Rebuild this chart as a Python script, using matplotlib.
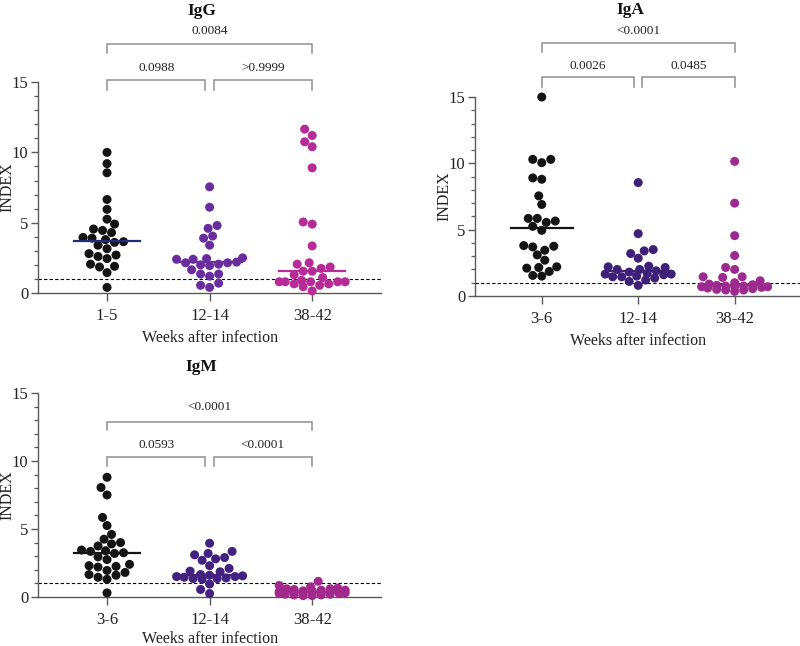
import numpy as np
import matplotlib
matplotlib.use("Agg")
import matplotlib.pyplot as plt
from matplotlib.ticker import MultipleLocator

plt.rcParams['font.family'] = ['Liberation Serif', 'DejaVu Serif']

# --- data ------------------------------------------------------------------
igg_groups = ["1-5", "12-14", "38-42"]
iga_groups = ["3-6", "12-14", "38-42"]
igm_groups = ["3-6", "12-14", "38-42"]

igg_1 = [10.0, 9.2, 8.55, 6.65, 5.95, 5.25, 4.9, 4.55, 4.3, 4.45, 3.95, 3.9, 3.8,
         3.6, 3.65, 3.4, 3.15, 2.7, 2.8, 2.6, 2.45, 2.05, 1.9, 1.85, 1.45, 0.4]
igg_2 = [7.55, 6.1, 4.8, 4.6, 4.05, 3.9, 3.4, 2.4, 2.4, 2.5, 2.45, 2.15, 2.2, 2.15,
         2.0, 1.95, 2.05, 1.65, 1.2, 1.35, 1.35, 0.4, 0.55, 0.7]
igg_3 = [11.65, 11.2, 10.75, 10.4, 8.9, 5.05, 4.9, 3.35, 2.05, 2.15, 1.75, 1.85,
         1.55, 1.55, 1.3, 1.1, 0.8, 0.55, 0.65, 0.8, 0.45, 0.65, 0.8, 0.8, 0.9,
         0.15, 0.8]

iga_1 = [15.0, 10.05, 10.3, 10.3, 8.8, 8.9, 7.55, 6.9, 5.85, 5.55, 5.65, 5.85,
         5.25, 4.95, 3.7, 3.75, 3.8, 3.1, 3.45, 2.7, 2.15, 1.85, 2.1, 2.2, 1.55, 1.5]
iga_2 = [8.55, 4.7, 3.5, 3.4, 3.2, 2.85, 2.25, 2.15, 2.2, 2.0, 2.0, 1.9, 1.8, 1.7,
         1.65, 1.65, 1.6, 1.5, 1.45, 1.45, 1.35, 1.2, 1.1, 0.8]
iga_3 = [10.15, 7.0, 4.55, 3.05, 2.0, 2.15, 1.45, 1.45, 1.4, 1.15, 1.0, 0.9, 0.85,
         0.8, 0.75, 0.7, 0.7, 0.7, 0.6, 0.55, 0.5, 0.45, 0.45, 0.35, 0.65, 0.75]

igm_1 = [8.8, 8.05, 7.5, 5.85, 5.25, 4.6, 4.25, 4.0, 3.9, 3.75, 3.35, 3.25, 3.4,
         3.45, 3.2, 2.95, 2.75, 2.25, 2.4, 2.3, 2.2, 1.95, 1.8, 1.65, 1.6, 1.45,
         1.3, 0.3]
igm_2 = [3.95, 3.35, 3.2, 3.1, 2.9, 2.8, 2.7, 2.3, 2.1, 1.9, 1.85, 1.65, 1.6, 1.55,
         1.5, 1.5, 1.45, 1.4, 1.35, 1.3, 1.35, 0.95, 0.55, 0.25]
igm_3 = [1.15, 0.85, 0.75, 0.65, 0.6, 0.6, 0.55, 0.5, 0.5, 0.45, 0.45, 0.4, 0.4,
         0.4, 0.35, 0.35, 0.35, 0.3, 0.3, 0.3, 0.25, 0.25, 0.2, 0.2, 0.15, 0.15,
         0.1, 0.1]

igg_p = ["0.0988", ">0.9999", "0.0084"]
iga_p = ["0.0026", "0.0485", "<0.0001"]
igm_p = ["0.0593", "<0.0001", "<0.0001"]

GRAY = "#5a5a5a"
BRACKET = "#8f8f8f"


def swarm_x(ax, x0, values, d=8.8, cap=33):
    """beeswarm offsets computed in pixel space, returned in data units"""
    vals = np.asarray(values, float)
    pix = ax.transData.transform(np.column_stack([np.full(len(vals), x0), vals]))
    ys = pix[:, 1]
    xscale = ax.transData.transform([[x0 + 1, 0]])[0, 0] - pix[0, 0]
    cands = sorted(np.arange(-cap, cap + 0.1, 1.5), key=lambda c: (abs(c), c))
    placed = []
    offs = np.zeros(len(vals))
    for i in np.argsort(ys):
        best, best_pen = 0.0, None
        for c in cands:
            pen = 0.0
            for px, py in placed:
                dist = np.hypot(c - px, ys[i] - py)
                if dist < d:
                    pen += d - dist
            if best_pen is None or pen < best_pen - 1e-9:
                best, best_pen = c, pen
                if pen == 0:
                    break
        placed.append((best, ys[i]))
        offs[i] = best
    return x0 + offs / xscale


def bracket(ax, x1, x2, ytop, ydrop, text, ty):
    ax.plot([x1, x1, x2, x2], [ydrop, ytop, ytop, ydrop], color=BRACKET, lw=1.1,
            clip_on=False, solid_joinstyle="miter")
    ax.text((x1 + x2) / 2, ty, text, ha="center", va="center", fontsize=9.5,
            color="#222222")


def panel(ax, title, groups, data, colors, medcolors, pvals, br, title_y, xlim,
          ylab_x, xpad):
    ax.set_xlim(*xlim)
    ax.set_ylim(0, 15)
    for i, (vals, c, mc) in enumerate(zip(data, colors, medcolors)):
        xs = swarm_x(ax, i, vals)
        ax.scatter(xs, vals, s=42, color=c, edgecolors="none", zorder=3, clip_on=False)
        med = np.median(vals)
        ax.plot([i - 0.32, i + 0.32], [med, med], color=mc, lw=1.6, zorder=4)
    ax.axhline(1, color="black", lw=0.8, ls=(0, (3, 2)), zorder=2)

    # brackets: (low bracket top, drop, text), (top bracket top, drop, text)
    (lt, ld, lty), (tt, td, tty) = br
    bracket(ax, 0, 0.96, lt, ld, pvals[0], lty)
    bracket(ax, 1.04, 2, lt, ld, pvals[1], lty)
    bracket(ax, 0, 2, tt, td, pvals[2], tty)

    ax.text(0.92, title_y, title, ha="center", va="baseline", fontsize=12.5,
            fontweight="bold", color="#111111")

    for s in ["top", "right"]:
        ax.spines[s].set_visible(False)
    for s in ["left", "bottom"]:
        ax.spines[s].set_color(GRAY)
        ax.spines[s].set_linewidth(1.0)
    ax.set_xticks(range(3))
    ax.set_xticklabels(groups)
    ax.set_yticks([0, 5, 10, 15])
    ax.yaxis.set_minor_locator(MultipleLocator(1))
    ax.tick_params(axis="both", which="major", direction="out", colors=GRAY,
                   labelcolor="#222222", labelsize=12, width=1.0)
    ax.tick_params(axis="y", which="major", length=5, pad=2)
    ax.tick_params(axis="x", which="major", length=6, pad=5)
    ax.tick_params(axis="y", which="minor", length=3, width=0.9, colors=GRAY)
    ax.set_ylabel("INDEX", fontsize=11.5, color="#222222")
    ax.yaxis.set_label_coords(ylab_x, 0.5)
    ax.set_xlabel("Weeks after infection", fontsize=11.5, color="#222222",
                  labelpad=xpad)


fig = plt.figure(figsize=(8, 6.46), dpi=100)
ax1 = fig.add_axes([0.0475, 0.5464, 0.429, 0.3266])
ax2 = fig.add_axes([0.594, 0.5418, 0.4075, 0.308])
ax3 = fig.add_axes([0.0475, 0.0759, 0.429, 0.3158])

panel(ax1, "IgG", igg_groups, [igg_1, igg_2, igg_3],
      ["#141414", "#6a2d9e", "#b62b95"], ["#1f2a7a", "#6a2d9e", "#b62b95"],
      igg_p, [(15.15, 14.4, 16.0), (17.7, 17.1, 18.6)], 19.8, (-0.673, 2.673),
      -0.065, 4)
panel(ax2, "IgA", iga_groups, [iga_1, iga_2, iga_3],
      ["#141414", "#3e2079", "#9c2a8f"], ["#141414", "#3e2079", "#9c2a8f"],
      iga_p, [(16.5, 15.75, 17.35), (19.05, 18.4, 20.0)], 21.25, (-0.69, 2.69),
      -0.07, 4)
panel(ax3, "IgM", igm_groups, [igm_1, igm_2, igm_3],
      ["#141414", "#422180", "#a2288c"], ["#141414", "#422180", "#a2288c"],
      igm_p, [(10.3, 9.6, 11.2), (12.9, 12.3, 14.0)], 16.6, (-0.673, 2.673),
      -0.065, 2)

fig.savefig("out.png", dpi=100)
